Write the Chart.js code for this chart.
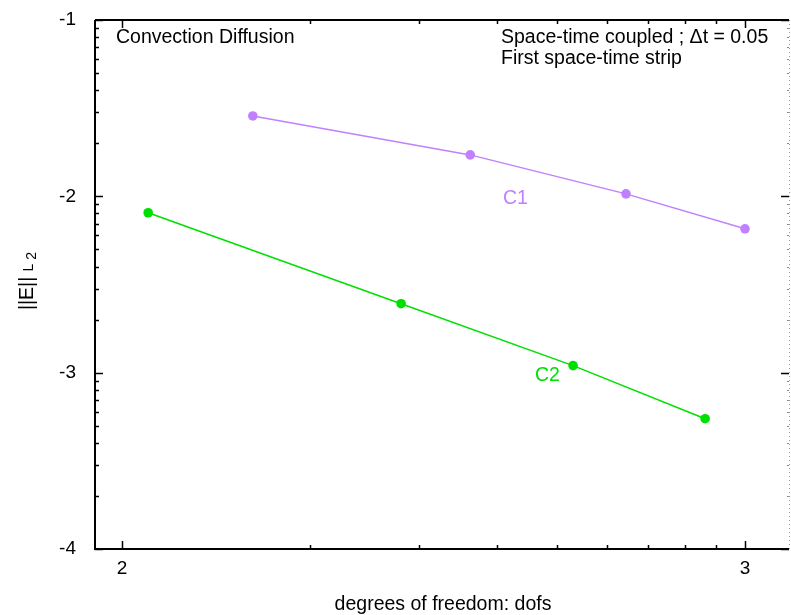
<!DOCTYPE html>
<html>
<head>
<meta charset="utf-8">
<script src="https://cdn.jsdelivr.net/npm/chart.js@4"></script>
<style>
  html, body { margin: 0; padding: 0; background: #fff; }
  #caja { width: 791px; height: 615px; }
</style>
</head>
<body>
<div id="caja"><canvas id="grafico" width="791" height="615"></canvas></div>
<script>
// datos (log10 dofs vs log10 error)
const c1X = [2.210, 2.559, 2.809, 3.000];
const c1Y = [-1.544, -1.765, -1.986, -2.184];
const c2X = [2.042, 2.448, 2.724, 2.936];
const c2Y = [-2.093, -2.609, -2.960, -3.261];
const xTicks = [2, 3];
const yTicks = [-4, -3, -2, -1];
const decadasX = [1, 2];
const decadasY = [-4, -3, -2];

const fuente = "'Liberation Sans', Arial, sans-serif";
const morado = "#c080ff";
const verde = "#00e000";

// ticks menores tipo logaritmico
let menoresX = [];
decadasX.forEach((d) => { for (let k = 2; k <= 9; k++) menoresX.push(d + Math.log10(k)); });
let menoresY = [];
decadasY.forEach((d) => { for (let k = 2; k <= 9; k++) menoresY.push(d + Math.log10(k)); });

const pares = (xs, ys) => xs.map((x, i) => ({ x: x, y: ys[i] }));

const marco = {
    id: "marco",
    afterDraw(chart) {
        const ctx = chart.ctx;
        const a = chart.chartArea;
        const sx = chart.scales.x;
        const sy = chart.scales.y;
        ctx.save();
        // bordes
        ctx.strokeStyle = "#000";
        ctx.lineWidth = 2;
        ctx.beginPath();
        ctx.moveTo(a.left, a.top);
        ctx.lineTo(a.left, a.bottom);
        ctx.lineTo(a.right, a.bottom);
        ctx.moveTo(a.left, a.top);
        ctx.lineTo(a.right, a.top);
        ctx.stroke();
        ctx.lineWidth = 1;
        ctx.strokeStyle = "#999";
        ctx.setLineDash([1, 3]);
        ctx.beginPath();
        ctx.moveTo(a.right + 0.5, a.top);
        ctx.lineTo(a.right + 0.5, a.bottom);
        ctx.stroke();
        ctx.setLineDash([]);
        // ticks hacia adentro
        ctx.strokeStyle = "#000";
        ctx.lineWidth = 1.5;
        ctx.beginPath();
        xTicks.forEach((v) => {
            const p = Math.round(sx.getPixelForValue(v)) + 0.5;
            ctx.moveTo(p, a.bottom); ctx.lineTo(p, a.bottom - 8);
            ctx.moveTo(p, a.top); ctx.lineTo(p, a.top + 8);
        });
        menoresX.forEach((v) => {
            if (v < sx.min || v > sx.max) return;
            const p = Math.round(sx.getPixelForValue(v)) + 0.5;
            ctx.moveTo(p, a.bottom); ctx.lineTo(p, a.bottom - 4);
            ctx.moveTo(p, a.top); ctx.lineTo(p, a.top + 4);
        });
        yTicks.forEach((v) => {
            const p = Math.round(sy.getPixelForValue(v)) + 0.5;
            ctx.moveTo(a.left, p); ctx.lineTo(a.left + 8, p);
            ctx.moveTo(a.right, p); ctx.lineTo(a.right - 8, p);
        });
        menoresY.forEach((v) => {
            const p = Math.round(sy.getPixelForValue(v)) + 0.5;
            ctx.moveTo(a.left, p); ctx.lineTo(a.left + 4, p);
        });
        ctx.stroke();
        ctx.strokeStyle = "#888";
        ctx.lineWidth = 1;
        ctx.beginPath();
        menoresY.forEach((v) => {
            const p = Math.round(sy.getPixelForValue(v)) + 0.5;
            ctx.moveTo(a.right, p); ctx.lineTo(a.right - 2, p);
        });
        ctx.stroke();
        // textos
        ctx.font = "19.5px " + fuente;
        ctx.textBaseline = "middle";
        ctx.textAlign = "left";
        ctx.fillStyle = "#000";
        ctx.fillText("Convection Diffusion", 116, 38);
        ctx.fillText("Space-time coupled ; \u0394t = 0.05", 501, 38);
        ctx.fillText("First space-time strip", 501, 59);
        ctx.fillStyle = morado;
        ctx.fillText("C1", 503, 199);
        ctx.fillStyle = verde;
        ctx.fillText("C2", 535, 376);
        ctx.fillStyle = "#000";
        ctx.textAlign = "center";
        ctx.fillText("degrees of freedom: dofs", 443, 605);
        // etiqueta eje y
        ctx.translate(33, 281);
        ctx.rotate(-Math.PI / 2);
        ctx.textAlign = "left";
        ctx.textBaseline = "alphabetic";
        ctx.font = "19.5px " + fuente;
        const w1 = ctx.measureText("||E|| ").width;
        ctx.font = "14px " + fuente;
        const w2 = ctx.measureText("L").width;
        const w3 = ctx.measureText(" 2").width;
        let x0 = -(w1 + w2 + w3) / 2;
        ctx.font = "19.5px " + fuente;
        ctx.fillText("||E|| ", x0, 0);
        ctx.font = "14px " + fuente;
        ctx.fillText("L", x0 + w1, 0);
        ctx.fillText(" 2", x0 + w1 + w2, 3);
        ctx.restore();
    },
};

new Chart(document.getElementById("grafico"), {
    type: "scatter",
    data: {
        datasets: [
            {
                label: "C1",
                data: pares(c1X, c1Y),
                showLine: true,
                borderColor: morado,
                backgroundColor: morado,
                borderWidth: 1.5,
                pointRadius: 4.8,
                pointBorderWidth: 0,
            },
            {
                label: "C2",
                data: pares(c2X, c2Y),
                showLine: true,
                borderColor: verde,
                backgroundColor: verde,
                borderWidth: 1.5,
                pointRadius: 4.8,
                pointBorderWidth: 0,
            },
        ],
    },
    options: {
        responsive: false,
        animation: false,
        layout: { autoPadding: false, padding: { top: 20, right: 2, left: 0, bottom: 0 } },
        plugins: {
            legend: { display: false },
            tooltip: { enabled: false },
            title: { display: false },
        },
        scales: {
            x: {
                type: "linear",
                min: 2 - 27 / 623,
                max: 3 + 44 / 623,
                afterBuildTicks: (eje) => { eje.ticks = xTicks.map((v) => ({ value: v })); },
                afterFit: (eje) => {
                    eje.height = 66;
                    eje.paddingLeft = 0;
                    eje.paddingRight = 0;
                },
                grid: { display: false, drawTicks: false },
                border: { display: false },
                ticks: {
                    padding: 8,
                    color: "#000",
                    font: { family: fuente, size: 19 },
                    maxRotation: 0,
                },
            },
            y: {
                type: "linear",
                min: -4,
                max: -1,
                afterBuildTicks: (eje) => { eje.ticks = yTicks.map((v) => ({ value: v })); },
                afterFit: (eje) => {
                    eje.width = 95;
                    eje.paddingTop = 0;
                    eje.paddingBottom = 0;
                },
                grid: { display: false, drawTicks: false },
                border: { display: false },
                ticks: {
                    padding: 19,
                    color: "#000",
                    font: { family: fuente, size: 19 },
                },
            },
        },
    },
    plugins: [marco],
});
</script>
</body>
</html>
